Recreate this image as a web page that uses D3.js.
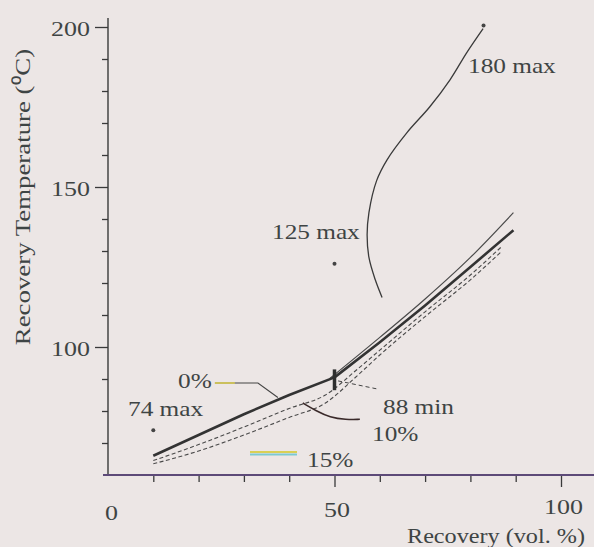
<!DOCTYPE html>
<html>
<head>
<meta charset="utf-8">
<script src="https://cdn.jsdelivr.net/npm/d3@7"></script>
<style>
  html, body { margin: 0; padding: 0; background: #ece6e5; }
  svg { display: block; }
  text { font-family: "Liberation Serif", "Times New Roman", serif; fill: #3e4444; }
</style>
</head>
<body>
<script>
// size of window
var width = 594;
var height = 547;

// distillation curves (recovery vol.% -> temperature C)
var recovery0 = [10, 20, 30, 40, 50, 60, 70, 80, 89.5];
var temp0 = [66, 72.5, 79, 85, 90.5, 101.5, 113, 125, 136.5];

var recoveryUpper = [49, 60, 70, 80, 89.5];
var tempUpper = [90.2, 103, 115, 128, 142];

var recovery10 = [10, 20, 30, 40, 48, 55, 60, 70, 80, 87];
var temp10 = [64.5, 69.5, 75, 80.8, 85, 93, 99, 111, 122.5, 131.5];

var recovery15 = [10, 20, 30, 40, 48, 55, 60, 70, 80, 87];
var temp15 = [63.5, 67.5, 72.5, 78, 82.5, 91, 97.5, 109.5, 121, 130];

// spec limit curve from 125 max up to 180 max
var specX = [60.5, 59, 57.6, 57.2, 57.6, 59.3, 61.6, 66, 71, 75.5, 79.2, 82.8];
var specY = [115.5, 121, 128, 135, 142, 152, 158.5, 167, 175, 183.5, 192, 199.5];

// spec points
var pointX = [10, 50, 82.9];
var pointY = [74, 126, 200.5];

// tick labels
var xMajor = [0, 50, 100];
var xMinor = [10, 20, 30, 40, 60, 70, 80, 90];
var yMajor = [100, 150, 200];
var yMinor = [70, 80, 90, 110, 120, 130, 140, 160, 170, 180, 190];

var svg = d3.select("body").append("svg")
  .attr("width", width).attr("height", height);

var x = d3.scaleLinear().domain([0, 100]).range([108, 561]);
var y = d3.scaleLinear().domain([60, 200]).range([475, 27]);

var ink = "#3a3a3a";
var fontSize = "22px";

// move x/y into a transform so the glyphs can be widened like the scan
function stretch(k) {
  return function(sel) {
    sel.each(function() {
      var t = d3.select(this);
      var tx = +t.attr("x") || 0, ty = +t.attr("y") || 0;
      t.attr("x", 0).attr("y", 0)
       .attr("transform", "translate(" + tx + "," + ty + ") scale(" + k + ",1)");
    });
  };
}

// axes
function styleAxis(g) {
  g.select(".domain").remove();
  g.selectAll("line").attr("stroke", ink).attr("stroke-width", 1.3);
  g.selectAll("text").style("font-size", fontSize).attr("fill", "#3e4444");
}

svg.append("g").attr("transform", "translate(108,0)")
  .call(d3.axisLeft(y).tickValues(yMinor).tickSize(6).tickFormat(""))
  .call(styleAxis);

svg.append("g").attr("transform", "translate(108,0)")
  .call(d3.axisLeft(y).tickValues(yMajor).tickSize(13).tickPadding(5))
  .call(styleAxis)
  .selectAll("text").attr("dy", null).attr("y", 8).call(stretch(1.18));

svg.append("g").attr("transform", "translate(0,475)")
  .call(d3.axisBottom(x).tickValues(xMinor).tickSize(7).tickFormat(""))
  .call(styleAxis);

var xg = svg.append("g").attr("transform", "translate(0,475)")
  .call(d3.axisBottom(x).tickValues(xMajor).tickSize(12))
  .call(styleAxis);
xg.selectAll(".tick").filter(function(d){ return d === 0; }).select("line").remove();
xg.selectAll("text").attr("dy", null)
  .attr("y", function(d){ return d === 0 ? 45 : d === 50 ? 42 : 39; })
  .attr("x", function(d){ return d === 0 ? 3 : 2; })
  .call(stretch(1.18));

// axis lines
svg.append("line")
  .attr("x1", 108).attr("x2", 108).attr("y1", y(60)).attr("y2", 18)
  .attr("stroke", ink).attr("stroke-width", 1.4);
svg.append("line")
  .attr("x1", 103).attr("x2", width).attr("y1", y(60)).attr("y2", y(60))
  .attr("stroke", "#5d4a78").attr("stroke-width", 1.8);

// axis titles
svg.append("text")
  .attr("transform", "translate(30,197) rotate(-90) scale(1.22,1)")
  .attr("text-anchor", "middle")
  .style("font-size", fontSize)
  .text("Recovery Temperature (\u2070C)");

svg.append("text")
  .attr("x", 407).attr("y", 543)
  .style("font-size", fontSize)
  .text("Recovery (vol. %)")
  .call(stretch(1.1));

// curves
function pairs(xs, ys) {
  return xs.map(function(v, i){ return [v, ys[i]]; });
}

var line = d3.line()
  .x(function(d){ return x(d[0]); })
  .y(function(d){ return y(d[1]); })
  .curve(d3.curveMonotoneX);

var lineFree = d3.line()
  .x(function(d){ return x(d[0]); })
  .y(function(d){ return y(d[1]); })
  .curve(d3.curveCatmullRom);

var lineBasis = d3.line()
  .x(function(d){ return x(d[0]); })
  .y(function(d){ return y(d[1]); })
  .curve(d3.curveBasis);

var leader = d3.line()
  .x(function(d){ return x(d[0]); })
  .y(function(d){ return y(d[1]); });

svg.append("path")
  .attr("d", line(pairs(recovery15, temp15)))
  .attr("fill", "none").attr("stroke", "#4a4a4a")
  .attr("stroke-width", 1.1).attr("stroke-dasharray", "4,2.5");

svg.append("path")
  .attr("d", line(pairs(recovery10, temp10)))
  .attr("fill", "none").attr("stroke", "#4a4a4a")
  .attr("stroke-width", 1.1).attr("stroke-dasharray", "4,2.5");

svg.append("path")
  .attr("d", line(pairs(recoveryUpper, tempUpper)))
  .attr("fill", "none").attr("stroke", "#4a4a4a")
  .attr("stroke-width", 1.2);

svg.append("path")
  .attr("d", leader(pairs(recovery0, temp0)))
  .attr("fill", "none").attr("stroke", "#333")
  .attr("stroke-width", 2.6).attr("stroke-linejoin", "round");

svg.append("path")
  .attr("d", lineFree(pairs(specX, specY)))
  .attr("fill", "none").attr("stroke", "#3a3a3a")
  .attr("stroke-width", 1.3);

svg.selectAll(".pt")
  .data(pairs(pointX, pointY))
  .enter().append("circle")
  .attr("class", "pt")
  .attr("cx", function(d){ return x(d[0]); })
  .attr("cy", function(d){ return y(d[1]); })
  .attr("r", 2)
  .attr("fill", "#444");

// 88 min marker on the 50% point
svg.append("line")
  .attr("x1", x(50)).attr("x2", x(50))
  .attr("y1", y(86.5)).attr("y2", y(93))
  .attr("stroke", "#2e2e2e").attr("stroke-width", 3.5);

// leaders
svg.append("path")
  .attr("d", leader([[23.6, 88.75], [33.1, 88.75], [37.5, 84.2]]))
  .attr("fill", "none").attr("stroke", "#444").attr("stroke-width", 1.1);
svg.append("path")
  .attr("d", leader([[23.6, 88.75], [28, 88.75]]))
  .attr("fill", "none").attr("stroke", "#d8cc50").attr("stroke-width", 1.6);

svg.append("path")
  .attr("d", leader([[50.8, 89.4], [59.4, 86.9]]))
  .attr("fill", "none").attr("stroke", "#444")
  .attr("stroke-width", 1).attr("stroke-dasharray", "4,3");

svg.append("path")
  .attr("d", lineBasis([[43, 82.5], [46, 80], [49, 78], [52.5, 77.3], [55.6, 77.4]]))
  .attr("fill", "none").attr("stroke", "#3a2a2a").attr("stroke-width", 1.6);

svg.append("line")
  .attr("x1", 250).attr("x2", 297).attr("y1", 452).attr("y2", 452)
  .attr("stroke", "#d9cf55").attr("stroke-width", 2);
svg.append("line")
  .attr("x1", 250).attr("x2", 297).attr("y1", 454.5).attr("y2", 454.5)
  .attr("stroke", "#7cc9d2").attr("stroke-width", 2);

// annotations
var notes = [
  ["180 max", 468, 73],
  ["125 max", 272, 239],
  ["74 max", 128, 416],
  ["0%", 178, 388],
  ["88 min", 383, 414],
  ["10%", 372, 441],
  ["15%", 307, 467]
];
svg.selectAll(".note")
  .data(notes)
  .enter().append("text")
  .attr("class", "note")
  .attr("x", function(d){ return d[1]; })
  .attr("y", function(d){ return d[2]; })
  .style("font-size", fontSize)
  .text(function(d){ return d[0]; })
  .call(stretch(1.15));
</script>
</body>
</html>
